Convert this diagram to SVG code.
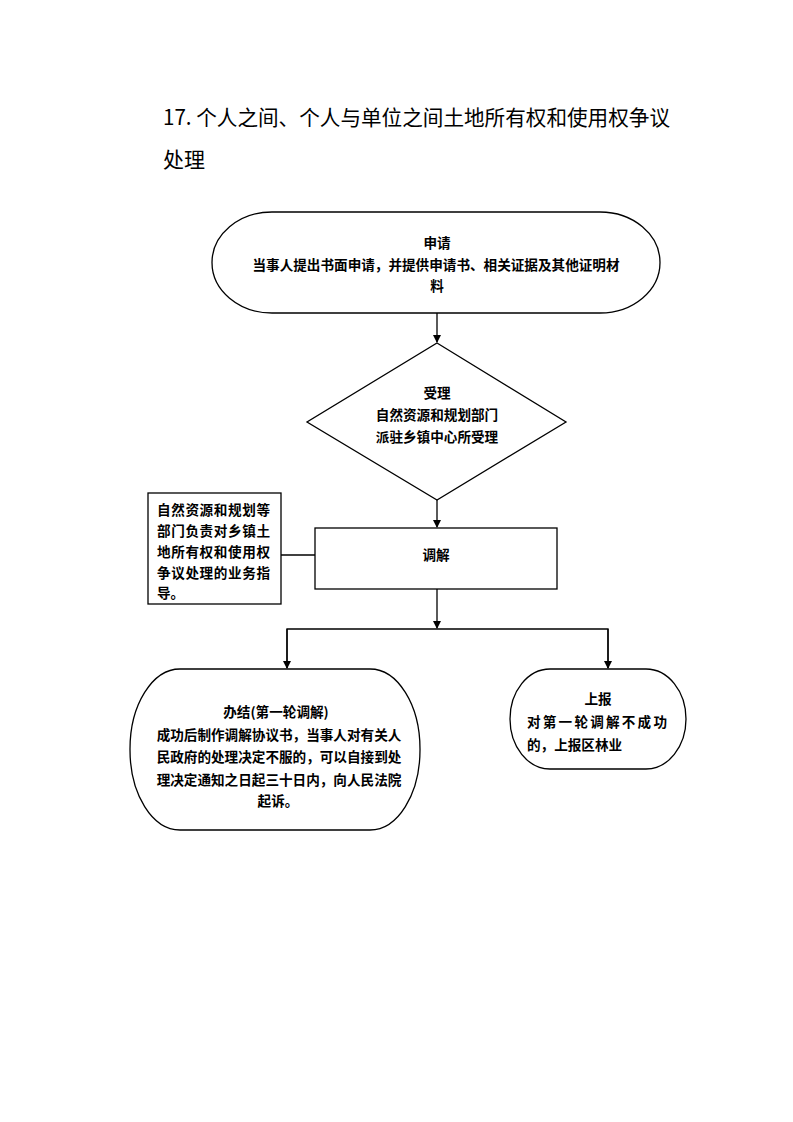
<svg xmlns="http://www.w3.org/2000/svg" width="793" height="1122" viewBox="0 0 793 1122">
<style>
.t{font-family:"Noto Sans CJK SC","Noto Sans",sans-serif;font-size:13.6px;font-weight:bold;fill:#000}
.c{text-anchor:middle}
.title{font-family:"Noto Sans CJK SC","Noto Sans",sans-serif;font-size:21px;fill:#000}
.s{fill:#fff;stroke:#000;stroke-width:1.3}
.ln{fill:none;stroke:#000;stroke-width:1.3}
</style>
<defs>
<marker id="ah" markerWidth="8" markerHeight="8" refX="7" refY="4" orient="auto" markerUnits="userSpaceOnUse">
<path d="M0,0 L8,4 L0,8 Z" fill="#000"/>
</marker>
</defs>
<rect width="793" height="1122" fill="#fff"/>
<g id="title">
<text class="title" x="163" y="125" textLength="507" lengthAdjust="spacingAndGlyphs">17. 个人之间、个人与单位之间土地所有权和使用权争议</text>
<text class="title" x="163" y="167">处理</text>
</g>
<g id="connectors">
<line class="ln" x1="437" y1="313" x2="437" y2="342" marker-end="url(#ah)"/>
<line class="ln" x1="437" y1="500" x2="437" y2="527" marker-end="url(#ah)"/>
<line class="ln" x1="281" y1="555" x2="315" y2="555"/>
<line class="ln" x1="437" y1="589" x2="437" y2="628" marker-end="url(#ah)"/>
<polyline class="ln" points="287,668 287,629 608,629 608,668"/>
<line class="ln" x1="287" y1="629" x2="287" y2="668" marker-end="url(#ah)"/>
<line class="ln" x1="608" y1="629" x2="608" y2="668" marker-end="url(#ah)"/>
</g>
<g id="apply">
<rect class="s" x="212" y="212" width="448" height="101" rx="60" ry="50.5"/>
<text class="t c" x="437" y="248">申请</text>
<text class="t c" x="436" y="270">当事人提出书面申请，并提供申请书、相关证据及其他证明材</text>
<text class="t c" x="437" y="291">料</text>
</g>
<g id="accept">
<polygon class="s" points="437,343 566,422 437,500 307,422"/>
<text class="t c" x="437" y="398">受理</text>
<text class="t c" x="437" y="420">自然资源和规划部门</text>
<text class="t c" x="437" y="442">派驻乡镇中心所受理</text>
</g>
<g id="guide">
<rect class="s" x="148" y="493" width="133" height="111"/>
<text class="t" x="157" y="515" textLength="113">自然资源和规划等</text>
<text class="t" x="157" y="536" textLength="113">部门负责对乡镇土</text>
<text class="t" x="157" y="557" textLength="113">地所有权和使用权</text>
<text class="t" x="157" y="578" textLength="113">争议处理的业务指</text>
<text class="t" x="157" y="598">导。</text>
</g>
<g id="mediate">
<rect class="s" x="315" y="528" width="242" height="61"/>
<text class="t c" x="436" y="560">调解</text>
</g>
<g id="close">
<rect class="s" x="130" y="669" width="290" height="161" rx="50" ry="80"/>
<text class="t c" x="276" y="717">办结(第一轮调解)</text>
<text class="t c" x="279" y="740">成功后制作调解协议书，当事人对有关人</text>
<text class="t c" x="279" y="762">民政府的处理决定不服的，可以自接到处</text>
<text class="t c" x="279" y="785">理决定通知之日起三十日内，向人民法院</text>
<text class="t c" x="278" y="806">起诉。</text>
</g>
<g id="report">
<rect class="s" x="510" y="669" width="176" height="100" rx="40" ry="50"/>
<text class="t c" x="598" y="704">上报</text>
<text class="t" x="527" y="727" textLength="140">对第一轮调解不成功</text>
<text class="t" x="527" y="750">的，上报区林业</text>
</g>
</svg>
